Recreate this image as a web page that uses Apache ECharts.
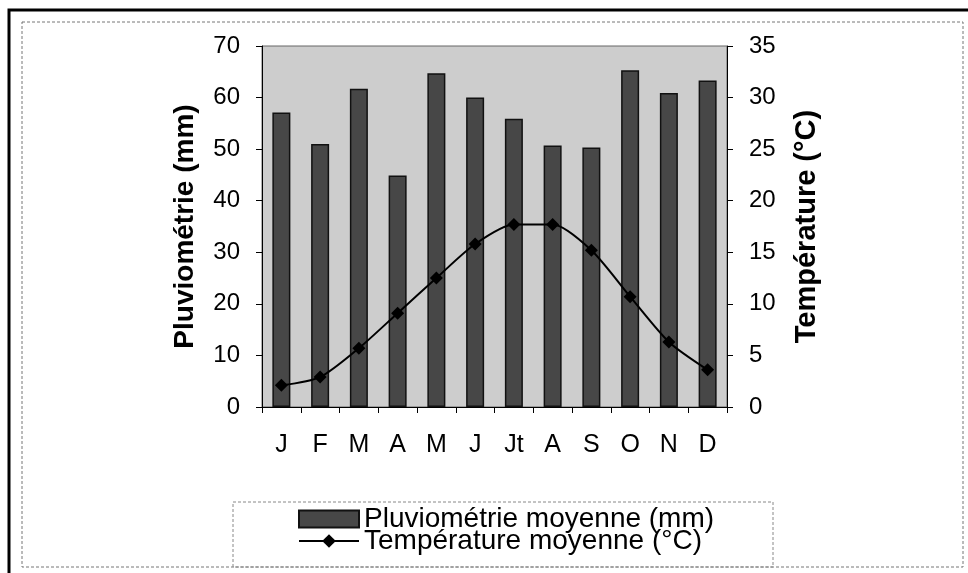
<!DOCTYPE html>
<html>
<head>
<meta charset="utf-8">
<script src="https://cdn.jsdelivr.net/npm/echarts@6/dist/echarts.min.js"></script>
<style>html,body{margin:0;padding:0;background:#fff}#c{width:968px;height:573px}</style>
</head>
<body>
<div id="c"></div>
<script>
var months = ['J','F','M','A','M','J','Jt','A','S','O','N','D'];
var rain = [57.1, 51.0, 61.7, 44.9, 64.7, 60.0, 55.9, 50.7, 50.3, 65.3, 60.9, 63.3];
var temp = [2.1, 2.9, 5.7, 9.1, 12.5, 15.8, 17.7, 17.7, 15.2, 10.7, 6.3, 3.6];
var rainName = 'Pluviométrie moyenne (mm)';
var tempName = 'Température moyenne (°C)';
var leftAxisName = 'Pluviométrie (mm)';
var rightAxisName = 'Température (°C)';

var font = '"Liberation Sans", Arial, sans-serif';
var chart = echarts.init(document.getElementById('c'));
chart.setOption({
  animation: false,
  backgroundColor: '#fff',
  textStyle: {fontFamily: font, color: '#000'},
  graphic: [
    {type: 'rect', shape: {x: 9, y: 10, width: 1000, height: 600}, style: {fill: 'none', stroke: '#000', lineWidth: 3}},
    {type: 'rect', shape: {x: 22, y: 22, width: 941, height: 545}, style: {fill: 'none', stroke: '#777', lineWidth: 1, lineDash: [3, 2]}},
    {type: 'rect', shape: {x: 233, y: 502, width: 540, height: 65}, style: {fill: 'none', stroke: '#888', lineWidth: 1, lineDash: [3, 2]}}
  ],
  grid: {left: 262, right: 241, top: 46, bottom: 166, show: true, backgroundColor: '#cdcdcd', borderColor: '#666', borderWidth: 1},
  legend: {
    orient: 'vertical', left: 293, top: 500, itemWidth: 60, itemHeight: 17, itemGap: -6,
    textStyle: {fontSize: 28, fontFamily: font, color: '#000'},
    data: [{name: rainName, icon: 'rect'}, {name: tempName}]
  },
  xAxis: {
    type: 'category', data: months,
    axisLine: {lineStyle: {color: '#000', width: 1}},
    axisTick: {show: true, length: 6, lineStyle: {color: '#000'}},
    axisLabel: {fontSize: 25, color: '#000', margin: 26, fontFamily: font}
  },
  yAxis: [
    {type: 'value', min: 0, max: 70, interval: 10, position: 'left',
     name: leftAxisName, nameLocation: 'middle', nameGap: 63, nameRotate: 90,
     nameTextStyle: {fontSize: 28, fontWeight: 'bold', color: '#000', fontFamily: font},
     axisLine: {show: true, lineStyle: {color: '#000'}},
     axisTick: {show: true, length: 6, lineStyle: {color: '#000'}},
     axisLabel: {fontSize: 24, color: '#000', margin: 22, fontFamily: font},
     splitLine: {show: false}},
    {type: 'value', min: 0, max: 35, interval: 5, position: 'right',
     name: rightAxisName, nameLocation: 'middle', nameGap: 65, nameRotate: 90,
     nameTextStyle: {fontSize: 29, fontWeight: 'bold', color: '#000', fontFamily: font},
     axisLine: {show: true, lineStyle: {color: '#000'}},
     axisTick: {show: true, length: 6, lineStyle: {color: '#000'}},
     axisLabel: {fontSize: 24, color: '#000', margin: 22, fontFamily: font},
     splitLine: {show: false}}
  ],
  series: [
    {name: rainName, type: 'bar', data: rain, yAxisIndex: 0, barWidth: 18,
     itemStyle: {color: '#474747', borderColor: '#111', borderWidth: 1.5}},
    {name: tempName, type: 'line', data: temp, yAxisIndex: 1, smooth: 0.25,
     symbol: 'diamond', symbolSize: 13,
     lineStyle: {color: '#000', width: 2}, itemStyle: {color: '#000'}}
  ]
});
</script>
</body>
</html>
